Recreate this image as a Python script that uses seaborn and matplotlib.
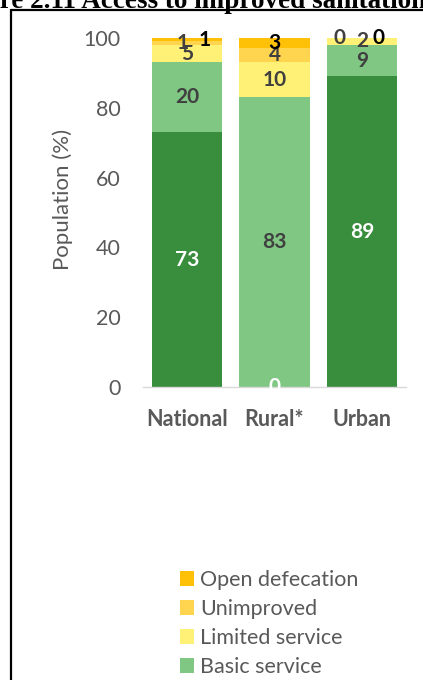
import matplotlib
matplotlib.use("Agg")
import matplotlib.pyplot as plt
import seaborn as sns
import numpy as np
import pandas as pd
from matplotlib.patches import Patch
from matplotlib.lines import Line2D

categories = ["National", "Rural*", "Urban"]
safely_managed = [73, 0, 89]
basic_service = [20, 83, 9]
limited_service = [5, 10, 2]
unimproved = [1, 4, 0]
open_defecation = [1, 3, 0]

series_names = ["Safely managed", "Basic service", "Limited service", "Unimproved", "Open defecation"]
series_values = [safely_managed, basic_service, limited_service, unimproved, open_defecation]
colors = ["#388E3C", "#81C784", "#FFF176", "#FFD54F", "#FFC107"]
label_colors = ["white", "#404040", "#404040", "#404040", "black"]
# per-label horizontal nudges in points (to mimic overlapping-label positions)
label_dx = {
    (3, 0): -3, (4, 0): 13,
    (3, 2): -16, (4, 2): 11.5,
}

sns.set_theme(style="white")
plt.rcParams['font.family'] = ['Lato', 'DejaVu Sans']

fig = plt.figure(figsize=(4.23, 6.80), dpi=100)
ax = fig.add_axes([143/423, 1-387/680, 263/423, 349/680])

vals = np.array(series_values, dtype=float)
cum = np.cumsum(vals, axis=0)
bottoms = cum - vals

# draw cumulative layers from top-most down so stacks appear
for i in range(len(series_names) - 1, -1, -1):
    df = pd.DataFrame({"cat": categories, "val": cum[i]})
    sns.barplot(data=df, x="cat", y="val", color=colors[i], saturation=1,
                width=0.8, ax=ax, edgecolor="none", linewidth=0, zorder=2)

for i in range(len(series_names)):
    for j in range(len(categories)):
        center = bottoms[i, j] + vals[i, j] / 2
        dx = label_dx.get((i, j), 0)
        ax.annotate(f"{int(vals[i, j])}", xy=(j, center), xytext=(dx, 0),
                    textcoords="offset points", ha="center", va="center",
                    color=label_colors[i], fontsize=15, fontweight="bold",
                    zorder=5, annotation_clip=False)

ax.set_ylim(0, 100)
ax.set_xlim(-0.5, 2.5)
ax.set_yticks([0, 20, 40, 60, 80, 100])
ax.tick_params(axis="y", labelsize=15.5, labelcolor="#595959", length=0, pad=16)
ax.tick_params(axis="x", labelsize=15.5, labelcolor="#595959", length=0, pad=16)
for lab in ax.get_xticklabels():
    lab.set_fontweight("bold")
ax.set_xlabel("")
ax.set_ylabel("Population (%)", fontsize=16, color="#595959")
ax.yaxis.set_label_coords(-(143 - 73) / 263, (387 - 199) / 349)
for s in ["top", "right", "left"]:
    ax.spines[s].set_visible(False)
ax.spines["bottom"].set_color("#D9D9D9")
ax.spines["bottom"].set_linewidth(1)
ax.spines["bottom"].set_zorder(4)
ax.grid(False)

handles = [Patch(facecolor=colors[i], edgecolor="none", label=series_names[i])
           for i in range(len(series_names) - 1, -1, -1)]
leg = fig.legend(handles=handles, loc="upper left",
                 bbox_to_anchor=(180/423, 1-570/680), frameon=False,
                 fontsize=15.5, handlelength=0.65, handleheight=0.65,
                 handletextpad=0.3, labelspacing=0.42, borderaxespad=0,
                 borderpad=0)
for t in leg.get_texts():
    t.set_color("#595959")

# document frame lines
fig.add_artist(Line2D([11/423, 11/423], [0, 1-10/680], transform=fig.transFigure,
                      color="black", linewidth=1.6))
fig.add_artist(Line2D([11/423, 1], [1-10/680, 1-10/680], transform=fig.transFigure,
                      color="black", linewidth=1.6))

# document caption (cropped at the top of the image)
title_full = "Figure 2.11 Access to improved sanitation"
prefix = "Figu"
fig.canvas.draw()
r = fig.canvas.get_renderer()
tmp = fig.text(0, 0, prefix, fontsize=19.5, fontweight="bold", family="Liberation Serif")
w = tmp.get_window_extent(renderer=r).width
tmp.remove()
fig.text(-w/423, 1-8/680, title_full, fontsize=19.5, fontweight="bold",
         family="Liberation Serif", ha="left", va="baseline", color="black")

fig.savefig("out.png", dpi=100)
